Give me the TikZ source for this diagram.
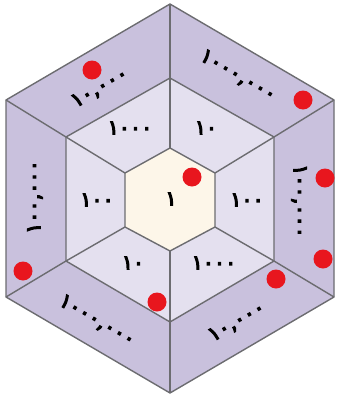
\documentclass[tikz,border=0pt]{standalone}
\usepackage{fontspec}
\newfontfamily\arabicfont[Script=Arabic,FakeBold=6,LetterSpace=2]{DejaVu Sans}
\definecolor{outerc}{RGB}{201,193,221}
\definecolor{midc}{RGB}{228,224,239}
\definecolor{innerc}{RGB}{253,246,233}
\definecolor{edgec}{RGB}{108,108,112}
\definecolor{dotc}{RGB}{232,22,30}
\tikzset{
  edge/.style={draw=edgec, line width=1.4pt, line join=round},
  num/.style={font=\arabicfont\fontsize{20}{20}\selectfont, inner sep=0pt},
  reddot/.style={fill=dotc, draw=none}
}
\begin{document}
\begin{tikzpicture}[x=1pt,y=-1pt]
\useasboundingbox (0,0) rectangle (337,399);
% outer vertices
\coordinate (O1) at (170,4);
\coordinate (O2) at (334,100);
\coordinate (O3) at (334,297);
\coordinate (O4) at (170,393);
\coordinate (O5) at (6,297);
\coordinate (O6) at (6,100);
% middle vertices
\coordinate (M1) at (170,78);
\coordinate (M2) at (274,137);
\coordinate (M3) at (274,261);
\coordinate (M4) at (170,322);
\coordinate (M5) at (66,261);
\coordinate (M6) at (66,137);
% inner vertices
\coordinate (I1) at (170,148);
\coordinate (I2) at (215,173);
\coordinate (I3) at (215,227);
\coordinate (I4) at (170,251);
\coordinate (I5) at (125,227);
\coordinate (I6) at (125,173);
% fills
\fill[outerc] (O1)--(O2)--(O3)--(O4)--(O5)--(O6)--cycle;
\fill[midc] (M1)--(M2)--(M3)--(M4)--(M5)--(M6)--cycle;
\fill[innerc] (I1)--(I2)--(I3)--(I4)--(I5)--(I6)--cycle;
% edges
\path[edge] (O1)--(O2)--(O3)--(O4)--(O5)--(O6)--cycle;
\path[edge] (M1)--(M2)--(M3)--(M4)--(M5)--(M6)--cycle;
\path[edge] (I1)--(I2)--(I3)--(I4)--(I5)--(I6)--cycle;
\foreach \k in {1,...,6}{
  \path[edge] (O\k)--(M\k);
  \path[edge] (M\k)--(I\k);
}
% labels
\node[num] (c) at (171,199) {١};
\node[num] (m1) at (130,128) {١٠٠٠};
\node[num] (m2) at (206,128) {١٠};
\node[num] (m3) at (247,200) {١٠٠};
\node[num] (m4) at (214,263) {١٠٠٠};
\node[num] (m5) at (133,263) {١٠};
\node[num] (m6) at (97,200) {١٠٠};
\node[num, rotate=30] (o1) at (100,88) {١٠,٠٠٠};
\node[num, rotate=-30] (o2) at (238,76) {١٠٠٠,٠٠٠};
\node[num, rotate=-90] (o3) at (299,201) {١٠٠,٠٠٠};
\node[num, rotate=30] (o4) at (237,322) {١٠,٠٠٠};
\node[num, rotate=-30] (o5) at (97,321) {١٠٠٠,٠٠٠};
\node[num, rotate=90] (o6) at (35,197) {١٠٠,٠٠٠};
% red dots
\foreach \x/\y in {92/70, 303/100, 325/178, 192/177, 323/259, 276/279, 157/302, 23/271}
  \fill[reddot] (\x,\y) circle (9.5);
\end{tikzpicture}
\end{document}
